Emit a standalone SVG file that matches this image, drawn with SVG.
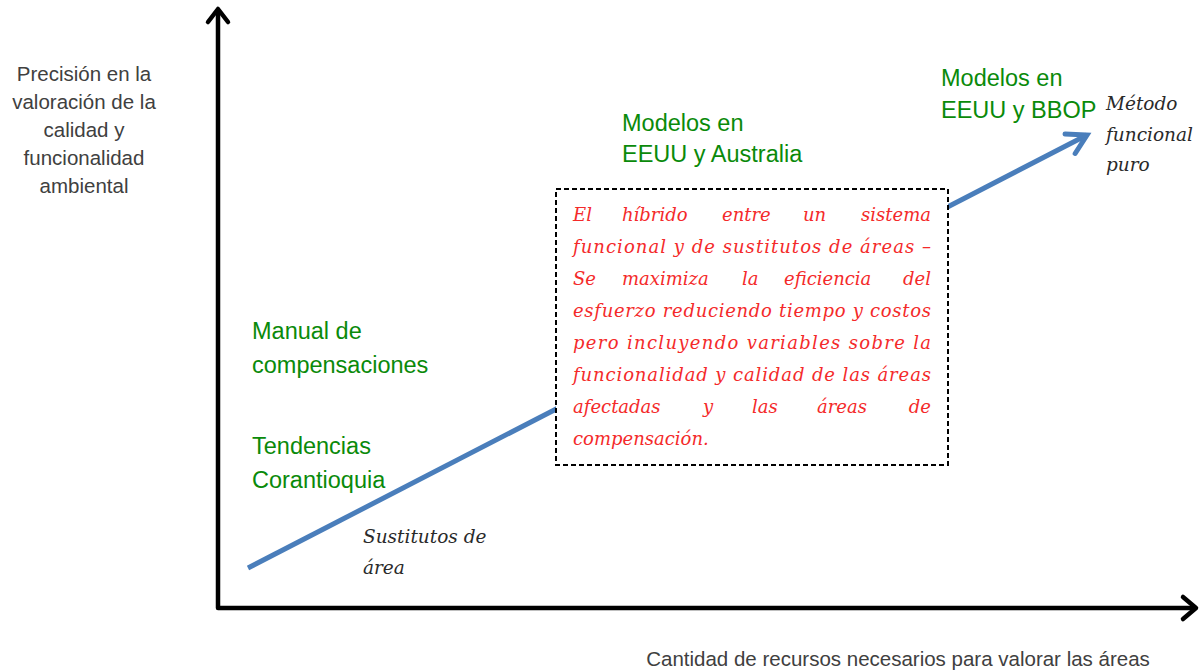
<svg xmlns="http://www.w3.org/2000/svg" width="1202" height="670" viewBox="0 0 1202 670">
<style>
.axis{fill:none;stroke:#000;stroke-width:4.5;stroke-linecap:round;stroke-linejoin:round}
.blue{fill:none;stroke:#4a7ebb;stroke-width:5}
.lbl{font-family:"Liberation Sans",Arial,sans-serif;font-size:20.5px;fill:#404040;text-anchor:middle}
.grn{font-family:"Liberation Sans",Arial,sans-serif;font-size:23.5px;fill:#0a8a0a}
.it{font-family:"DejaVu Serif","Liberation Serif",serif;font-style:italic;font-size:18.5px;fill:#2a2a2a}
.red{font-family:"DejaVu Serif","Liberation Serif",serif;font-style:italic;font-size:18px;fill:#f42a2a}
.end{text-anchor:end}
</style>
<defs>
<marker id="bh" markerUnits="userSpaceOnUse" markerWidth="40" markerHeight="40" viewBox="-25 -20 30 40" refX="0" refY="0" orient="auto" overflow="visible">
<path d="M-19,-11 L0,0 L-19,11" fill="none" stroke="#4a7ebb" stroke-width="5" stroke-linecap="round" stroke-linejoin="miter"/>
</marker>
</defs>
<g id="connectors">
<path class="axis" d="M218,10 V608 H1195"/>
<path class="axis" d="M208,22 L218,9 L228,22"/>
<path class="axis" d="M1183,597 L1196,608 L1183,619"/>
<line class="blue" x1="248" y1="568" x2="1087" y2="135" marker-end="url(#bh)"/>
</g>
<g id="yaxis-label">
<text class="lbl" x="84" y="81">Precisión en la</text>
<text class="lbl" x="84" y="109">valoración de la</text>
<text class="lbl" x="84" y="137">calidad y</text>
<text class="lbl" x="84" y="165">funcionalidad</text>
<text class="lbl" x="84" y="193">ambiental</text>
</g>
<g id="xaxis-label">
<text class="lbl" x="898" y="666">Cantidad de recursos necesarios para valorar las áreas</text>
</g>
<g id="manual">
<text class="grn" x="252" y="339">Manual de</text>
<text class="grn" x="252" y="373">compensaciones</text>
</g>
<g id="tendencias">
<text class="grn" x="252" y="454">Tendencias</text>
<text class="grn" x="252" y="488">Corantioquia</text>
</g>
<g id="modelos-australia">
<text class="grn" x="622" y="131">Modelos en</text>
<text class="grn" x="622" y="162">EEUU y Australia</text>
</g>
<g id="modelos-bbop">
<text class="grn" x="941" y="86">Modelos en</text>
<text class="grn" x="941" y="118">EEUU y BBOP</text>
</g>
<g id="sustitutos">
<text class="it" x="363" y="543">Sustitutos de</text>
<text class="it" x="363" y="574">área</text>
</g>
<g id="metodo">
<text class="it" x="1106" y="110">Método</text>
<text class="it" x="1106" y="141">funcional</text>
<text class="it" x="1106" y="171">puro</text>
</g>
<g id="hibrido">
<rect x="556" y="189" width="392" height="276" fill="#fff" stroke="#000" stroke-width="2" stroke-dasharray="5,3"/>
<text class="red" y="221"><tspan x="573">El</tspan><tspan x="622">híbrido</tspan><tspan x="722">entre</tspan><tspan x="803">un</tspan></text>
<text class="red end" x="931" y="221">sistema</text>
<text class="red" x="573" y="253" textLength="358" lengthAdjust="spacing">funcional y de sustitutos de áreas –</text>
<text class="red" y="285"><tspan x="573">Se</tspan><tspan x="622">maximiza</tspan><tspan x="742">la</tspan><tspan x="784">eficiencia</tspan></text>
<text class="red end" x="931" y="285">del</text>
<text class="red" x="573" y="317" textLength="358" lengthAdjust="spacing">esfuerzo reduciendo tiempo y costos</text>
<text class="red" x="573" y="349" textLength="358" lengthAdjust="spacing">pero incluyendo variables sobre la</text>
<text class="red" x="573" y="381" textLength="358" lengthAdjust="spacing">funcionalidad y calidad de las áreas</text>
<text class="red" y="413"><tspan x="573">afectadas</tspan><tspan x="703">y</tspan><tspan x="752">las</tspan><tspan x="817">áreas</tspan></text>
<text class="red end" x="931" y="413">de</text>
<text class="red" x="573" y="445">compensación.</text>
</g>
</svg>
